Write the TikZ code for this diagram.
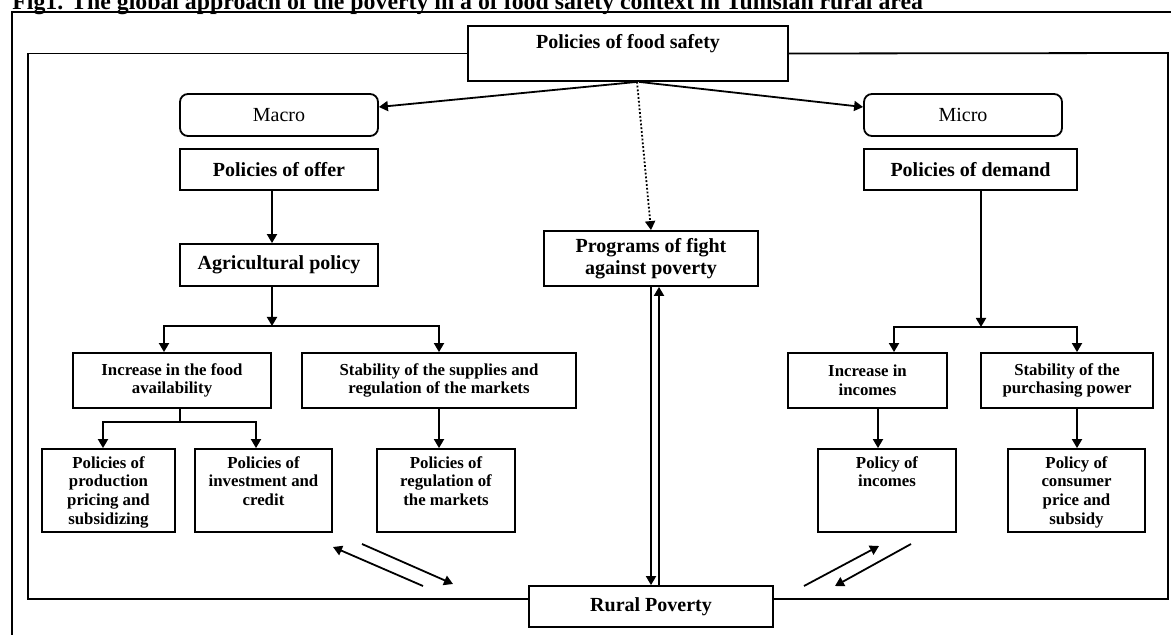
\documentclass[tikz,border=0pt]{standalone}
\usepackage{fontspec}
\setmainfont{Liberation Serif}
\usetikzlibrary{arrows.meta}
\tikzset{bigbox/.style={draw, line width=0.9pt, font=\fontsize{10}{11}\selectfont\bfseries, align=center, inner sep=2pt, minimum height=20.5pt}}
\tikzset{scalebox/.style={draw, line width=0.9pt, rounded corners=4pt, font=\fontsize{10}{11}\selectfont, minimum width=99pt, minimum height=21pt}}
\tikzset{midbox/.style={draw, line width=0.9pt, font=\fontsize{8.4}{9.3}\selectfont\bfseries, align=center, inner sep=2pt, minimum height=27.5pt}}
\tikzset{lowbox/.style={draw, line width=0.9pt, font=\fontsize{8.4}{9.3}\selectfont\bfseries, inner sep=0pt, minimum height=41.5pt}}
\tikzset{arr/.style={line width=0.9pt, -{Triangle[length=4.5pt,width=5pt]}}}
\tikzset{wire/.style={line width=0.9pt}}
\newcommand{\lowtext}[1]{\parbox[c][34pt][t]{64pt}{\centering #1}}

\begin{document}
\begin{tikzpicture}[x=0.5pt,y=-0.5pt]
\useasboundingbox (0,0) rectangle (1171,635);
% Title
\node[anchor=base west, inner sep=0, font=\fontsize{11.9}{14}\selectfont\bfseries] (title) at (12,9.5) {Fig1. The global approach of the poverty in a of food safety context in Tunisian rural area};
% Frame
\draw[line width=0.8pt] (12,700) |- (1250,12);
% Top
\node[bigbox, minimum width=160pt, minimum height=27.5pt, text depth=11.7pt] (food) at (628,53.5) {Policies of food safety};
\node[scalebox] (macro) at (279,115) {Macro};
\node[scalebox] (micro) at (963,115) {Micro};
%% Offer side
\node[bigbox, minimum width=99pt] (offer) at (279,169.5) {Policies of offer};
\node[bigbox, minimum width=99pt, minimum height=21pt] (agri) at (279,265) {Agricultural policy};
\node[midbox, minimum width=99pt] (incfood) at (172,380.5) {Increase in the food\\availability};
\node[midbox, minimum width=137pt] (stabsup) at (439,380.5) {Stability of the supplies and\\regulation of the markets};
\node[lowbox, minimum width=66.5pt] (prod) at (108.5,490.5) {\lowtext{Policies of\\production\\pricing and\\subsidizing}};
\node[lowbox, minimum width=68.5pt] (invest) at (263.5,490.5) {\lowtext{Policies of\\investment and\\credit}};
\node[lowbox, minimum width=69pt] (regul) at (446,490.5) {\lowtext{Policies of\\regulation of\\the markets}};
%% Demand side
\node[bigbox, minimum width=106.5pt] (demand) at (970.5,169.5) {Policies of demand};
\node[midbox, minimum width=79.5pt] (incinc) at (867.5,380.5) {Increase in\\incomes};
\node[midbox, minimum width=86pt] (stabpur) at (1067,380.5) {Stability of the\\purchasing power};
\node[lowbox, minimum width=69pt] (polinc) at (887,490.5) {\lowtext{Policy of\\incomes}};
\node[lowbox, minimum width=68.5pt] (polcons) at (1076.5,490.5) {\lowtext{Policy of\\consumer\\price and\\subsidy}};
%% Middle
\node[bigbox, minimum width=107pt, minimum height=27.5pt] (prog) at (651,258.5) {Programs of fight\\against poverty};
\node[bigbox, minimum width=122pt] (rural) at (651,606.5) {Rural Poverty};
% Inner frame
\draw[wire] (food.west) -| (28,599) -- ([yshift=3.75pt]rural.west);
\draw[wire] ([yshift=3.75pt]rural.east) -| (1168,53) -- (food.east);
% Food safety arrows
\draw[arr] ([xshift=4.5pt]food.south) -- ([yshift=4pt]macro.east);
\draw[arr] ([xshift=5.5pt]food.south) -- ([yshift=4pt]micro.west);
\draw[arr, densely dotted] ([xshift=4.5pt]food.south) -- (prog.north);
% Offer tree
\coordinate (jagri) at (272,326);
\coordinate (jfood) at (180,422);
\draw[arr] ([xshift=-3.5pt]offer.south) -- ([xshift=-3.5pt]agri.north);
\draw[arr] ([xshift=-3.5pt]agri.south) -- (jagri);
\draw[arr] (jagri) -| ([xshift=-4pt]incfood.north);
\draw[arr] (jagri) -| (stabsup.north);
\draw[wire] ([xshift=4pt]incfood.south) -- (jfood);
\draw[arr] (jfood) -| ([xshift=-2.75pt]prod.north);
\draw[arr] (jfood) -| ([xshift=-3.75pt]invest.north);
\draw[arr] (stabsup.south) -- (stabsup.south |- regul.north);
% Demand tree
\coordinate (jdem) at (981,327);
\draw[arr] ([xshift=5.25pt]demand.south) -- (jdem);
\draw[arr] (jdem) -| ([xshift=13.25pt]incinc.north);
\draw[arr] (jdem) -| ([xshift=5pt]stabpur.north);
\draw[arr] ([xshift=5.25pt]incinc.south) -- ([xshift=5.25pt]incinc.south |- polinc.north);
\draw[arr] ([xshift=5pt]stabpur.south) -- ([xshift=5pt]stabpur.south |- polcons.north);
% Programs <-> poverty
\draw[arr] (prog.south) -- (rural.north);
\draw[arr] ([xshift=4pt]rural.north) -- ([xshift=4pt]prog.south);
% Feedback arrows
\coordinate (la1) at (362,544);
\coordinate (la2) at (453,584);
\coordinate (lb1) at (423,586);
\coordinate (lb2) at (333,547);
\coordinate (ra1) at (804,586);
\coordinate (ra2) at (879,546);
\coordinate (rb1) at (911,544);
\coordinate (rb2) at (835,586);
\draw[arr] (la1) -- (la2);
\draw[arr] (lb1) -- (lb2);
\draw[arr] (ra1) -- (ra2);
\draw[arr] (rb1) -- (rb2);
\end{tikzpicture}
\end{document}
